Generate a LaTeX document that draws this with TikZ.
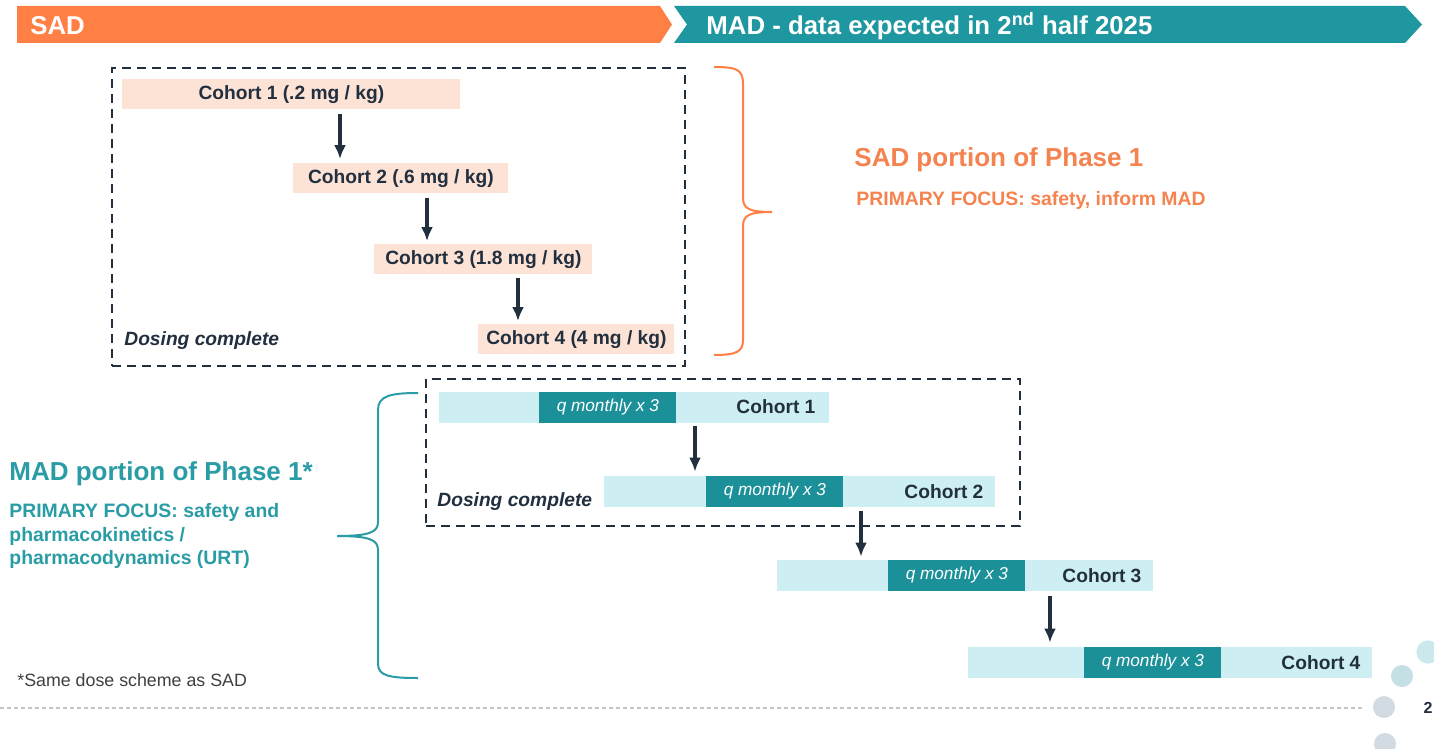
\documentclass[tikz,border=0pt]{standalone}
\usepackage{fontspec}
\setmainfont{Liberation Sans}
\usetikzlibrary{positioning,arrows.meta,calc}

\definecolor{sadorange}{HTML}{FF7F45}
\definecolor{sadtext}{HTML}{F5834F}
\definecolor{madteal}{HTML}{1E97A1}
\definecolor{madtext}{HTML}{2A9CA5}
\definecolor{qteal}{HTML}{1B9098}
\definecolor{barcyan}{HTML}{CDEFF3}
\definecolor{boxpink}{HTML}{FCE3D6}
\definecolor{inkblue}{HTML}{222F3E}
\definecolor{footgray}{HTML}{404040}
\definecolor{rulegray}{HTML}{C4C4C4}
\definecolor{dotcyan}{HTML}{CBE8EC}
\definecolor{dotblue}{HTML}{C5E0E4}
\definecolor{dotgray}{HTML}{D2DBE1}

\tikzset{
  banner/.style  = {anchor=west, inner sep=0pt, text=white,
                    font=\bfseries\fontsize{12.9}{15}\selectfont},
  sadstep/.style = {anchor=north west, fill=boxpink, minimum height=15pt,
                    inner sep=0pt, text=inkblue,
                    font=\bfseries\fontsize{9.6}{11}\selectfont},
  madbar/.style  = {anchor=west, fill=barcyan, minimum height=15.5pt,
                    inner sep=0pt},
  qdose/.style   = {anchor=west, fill=qteal, minimum height=15.5pt,
                    minimum width=68.5pt, inner sep=0pt, text=white,
                    font=\itshape\fontsize{8.6}{10}\selectfont},
  cohort/.style  = {anchor=east, inner sep=0pt, text=inkblue,
                    font=\bfseries\fontsize{9.6}{11}\selectfont},
  donenote/.style = {anchor=west, inner sep=0pt, text=inkblue,
                    font=\bfseries\itshape\fontsize{9.6}{11}\selectfont},
  dosebox/.style = {anchor=north west, draw=inkblue, line width=1.2pt,
                    dash pattern=on 4.5pt off 3pt, inner sep=0pt},
  flow/.style    = {-{Latex[length=7pt,width=6pt]}, draw=inkblue, line width=1.6pt},
  headline/.style = {anchor=west, inner sep=0pt,
                    font=\bfseries\fontsize{13}{15}\selectfont},
  focus/.style   = {anchor=west, inner sep=0pt, align=left,
                    font=\bfseries\fontsize{9.7}{11.75}\selectfont}
}

\begin{document}
\begin{tikzpicture}[x=0.5pt, y=-0.5pt]

\fill[white] (0,0) rectangle (1434,749);
\useasboundingbox (0,0) rectangle (1434,749);

% the two phase banners
\fill[sadorange] (17,6) -- (660,6) -- (672,24.5) -- (660,43) -- (17,43) -- cycle;
\fill[madteal] (674,6) -- (1405,6) -- (1422,24.5) -- (1405,43) -- (674,43)
  -- (687,24.5) -- cycle;
\node[banner] (sadtitle) at (30,26) {SAD};
\node[banner] (madtitle) at (706,26) {MAD - data expected in 2\textsuperscript{nd} half 2025};

% single ascending dose, dashed frame first
\node[dosebox, minimum width=286.5pt, minimum height=149pt] (sadbox) at (111,67) {};
\node[sadstep, minimum width=169pt] (s1) at (122,79) {Cohort 1 (.2 mg / kg)};
\node[sadstep, minimum width=107.5pt] (s2) at (293,163) {Cohort 2 (.6 mg / kg)};
\node[sadstep, minimum width=109pt] (s3) at (374,244) {Cohort 3 (1.8 mg / kg)};
\node[sadstep, minimum width=98pt] (s4) at (478,324) {Cohort 4 (4 mg / kg)};
\node[donenote] (sadnote) at (124,341) {Dosing complete};

\draw[flow] ($(s1.south -| s2.west)+(47,4)$) -- ($(s2.north west)+(47,-4)$);
\draw[flow] ($(s2.south -| s3.west)+(53,4)$) -- ($(s3.north west)+(53,-3)$);
\draw[flow] ($(s3.south -| s4.west)+(40,3)$) -- ($(s4.north west)+(40,-3)$);

% brace and focus text for the SAD part
\draw[sadorange, line width=1pt] (714,67) .. controls (736,67) and (743,69) .. (743,84)
  -- (743,198) .. controls (743,209) and (750,212) .. (772,212)
  .. controls (750,212) and (743,215) .. (743,226)
  -- (743,340) .. controls (743,352) and (736,355) .. (714,355);
\node[headline, text=sadtext] (sadhead) at (854,160) {SAD portion of Phase 1};
\node[focus, text=sadtext] (sadfocus) at (856,200) {PRIMARY FOCUS: safety, inform MAD};

% multiple ascending dose
\node[dosebox, minimum width=297pt, minimum height=73.5pt] (madbox) at (425,378) {};

\node[madbar, minimum width=195pt] (m1) at (439,407) {};
\node[qdose] (q1) at ($(m1.west)+(100,0)$) {q monthly x 3};
\node[cohort] (c1) at ($(m1.east)+(-14,0)$) {Cohort 1};

\node[madbar, minimum width=195.5pt] (m2) at (604,491.5) {};
\node[qdose] (q2) at ($(m2.west)+(102,0)$) {q monthly x 3};
\node[cohort] (c2) at ($(m2.east)+(-12,0)$) {Cohort 2};

\node[madbar, minimum width=188pt] (m3) at (777,575.5) {};
\node[qdose] (q3) at ($(m3.west)+(111,0)$) {q monthly x 3};
\node[cohort] (c3) at ($(m3.east)+(-12,0)$) {Cohort 3};

\node[madbar, minimum width=202pt] (m4) at (968,662.5) {};
\node[qdose] (q4) at ($(m4.west)+(116,0)$) {q monthly x 3};
\node[cohort] (c4) at ($(m4.east)+(-12,0)$) {Cohort 4};

\node[donenote] (madnote) at (437,502) {Dosing complete};

\draw[flow] ($(m1.south -| m2.west)+(91,3)$) -- ($(m2.north west)+(91,-4)$);
\draw[flow] ($(m2.south -| m3.west)+(84,4)$) -- ($(m3.north west)+(84,-3)$);
\draw[flow] ($(m3.south -| m4.west)+(82,5)$) -- ($(m4.north west)+(82,-4)$);

% brace and focus text for the MAD part
\draw[madtext, line width=1pt] (418,393) .. controls (390,393) and (378,396) .. (378,410)
  -- (378,522) .. controls (378,532) and (370,536) .. (337,536)
  .. controls (370,536) and (378,540) .. (378,550)
  -- (378,664) .. controls (378,676) and (390,678) .. (418,678);
\node[headline, text=madtext] (madhead) at (9,474) {MAD portion of Phase 1*};
\node[focus, text=madtext] (madfocus) at (9,536)
  {PRIMARY FOCUS: safety and\\pharmacokinetics /\\pharmacodynamics (URT)};
\node[anchor=west, inner sep=0pt, text=footgray,
  font=\fontsize{8.9}{10}\selectfont] (footnote) at (17,680) {*Same dose scheme as SAD};

% page footer
\draw[rulegray, line width=0.6pt, dash pattern=on 2pt off 1.5pt] (0,708) -- (1365,708);
\fill[dotcyan] (1428,652) circle (5.8pt);
\fill[dotblue] (1402,676) circle (5.5pt);
\fill[dotgray] (1384,707) circle (5.5pt);
\fill[dotgray] (1385,744) circle (5.5pt);
\node[anchor=east, inner sep=0pt, text=inkblue,
  font=\bfseries\fontsize{8}{10}\selectfont] (pageno) at (1433,708) {2};

\end{tikzpicture}
\end{document}
